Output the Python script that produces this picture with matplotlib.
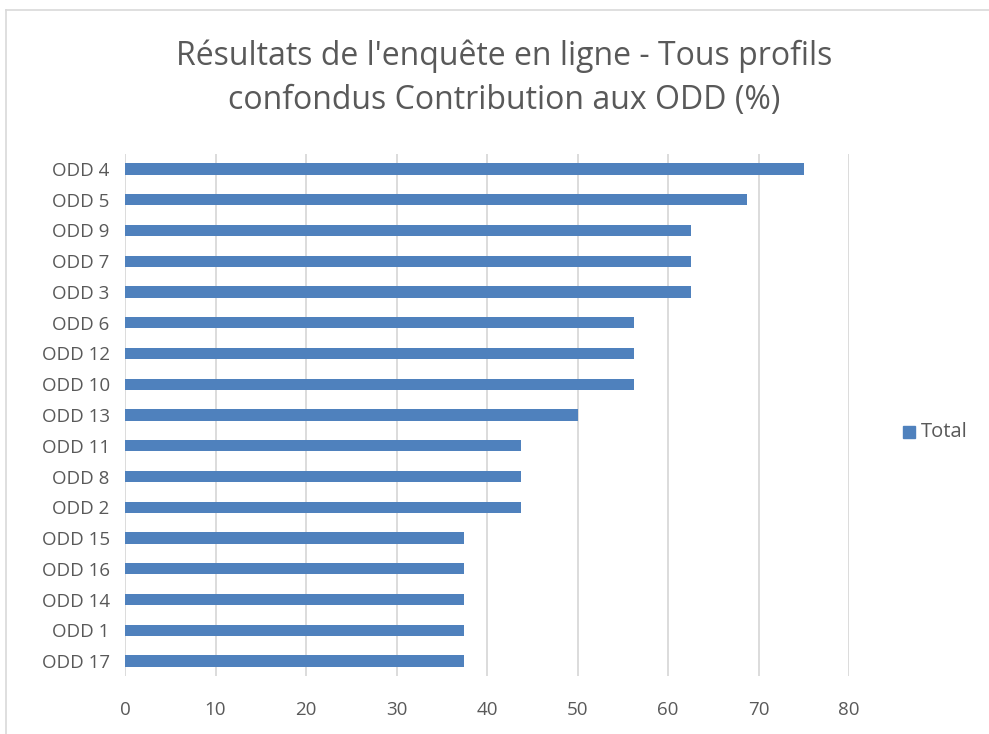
import matplotlib

matplotlib.use("Agg")
import matplotlib.pyplot as plt
from matplotlib.lines import Line2D
from matplotlib.patches import Rectangle

# data, top to bottom as shown
categories = ["ODD 4", "ODD 5", "ODD 9", "ODD 7", "ODD 3", "ODD 6", "ODD 12",
              "ODD 10", "ODD 13", "ODD 11", "ODD 8", "ODD 2", "ODD 15",
              "ODD 16", "ODD 14", "ODD 1", "ODD 17"]
values = [75, 68.75, 62.5, 62.5, 62.5, 56.25, 56.25, 56.25, 50,
          43.75, 43.75, 43.75, 37.5, 37.5, 37.5, 37.5, 37.5]
xticks = [0, 10, 20, 30, 40, 50, 60, 70, 80]
series_name = "Total"
title = "Résultats de l'enquête en ligne - Tous profils\nconfondus Contribution aux ODD (%)"

W, H = 989, 734
TEXT = "#595959"
BAR = "#4f81bd"
GRID = "#d9d9d9"
plt.rcParams["font.family"] = ["Open Sans", "DejaVu Sans"]

fig = plt.figure(figsize=(W / 100, H / 100), dpi=100)

# chart frame (cut off on right and bottom)
fig.add_artist(Line2D([5.5 / W, 5.5 / W], [0, 1 - 9.5 / H], transform=fig.transFigure,
                      color=GRID, lw=1.2))
fig.add_artist(Line2D([5.5 / W, 1], [1 - 9.5 / H, 1 - 9.5 / H], transform=fig.transFigure,
                      color=GRID, lw=1.2))

top, bottom = 153.6, 676.4
ax = fig.add_axes([125 / W, 1 - bottom / H, (849 - 125) / W, (bottom - top) / H])
pos = list(range(len(categories)))
ax.barh(pos, values, height=0.36, color=BAR, zorder=3)
ax.set_ylim(len(categories) - 0.5, -0.5)
ax.set_xlim(0, 80)
ax.set_yticks(pos)
ax.set_yticklabels(categories, fontsize=13.5, color=TEXT)
ax.set_xticks(xticks)
ax.set_xticklabels([str(t) for t in xticks], fontsize=13.5, color=TEXT)
ax.tick_params(axis="both", length=0)
ax.tick_params(axis="y", pad=11)
ax.tick_params(axis="x", pad=18)
ax.grid(axis="x", color=GRID, lw=1.3, zorder=0)
for s in ax.spines.values():
    s.set_visible(False)

fig.text(504 / W, 1 - 78 / H, title, ha="center", va="center", fontsize=23,
         color=TEXT, linespacing=1.45)

# legend
fig.add_artist(Rectangle((903 / W, 1 - 438 / H), 12 / W, 12 / H, transform=fig.transFigure,
                         color=BAR))
fig.text(921 / W, 1 - 432 / H, series_name, ha="left", va="center", fontsize=14.5, color=TEXT)

fig.savefig("out.png", dpi=100)
